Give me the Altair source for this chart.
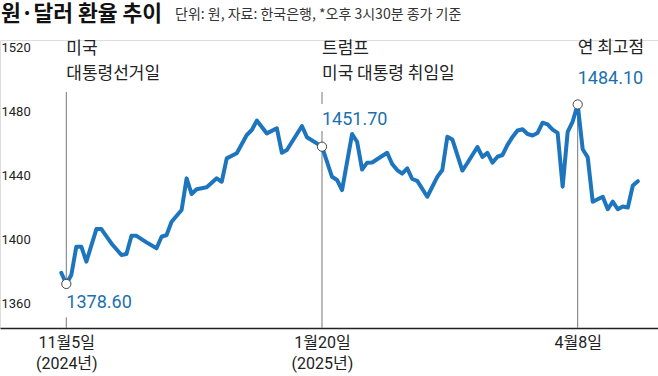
import json
import altair as alt
import pandas as pd

# ---- data ---------------------------------------------------------------
# trading-day index (0 = 2024-11-05) and won/dollar 15:30 close
day_index = [-1, 0, 1, 2, 3, 4, 6, 7, 9, 11,
             12, 13, 14, 16, 18, 19, 20, 21, 23, 24,
             25, 26, 28, 30, 31, 32, 34, 36, 37, 38,
             40, 42, 43, 44, 47, 48, 51, 53, 54, 55,
             57, 58, 59, 60, 61, 64, 65, 66, 67, 68,
             69, 70, 72, 74, 75, 76, 77, 79, 80, 81,
             82, 83, 84, 85, 86, 87, 88, 89, 90, 91,
             92, 93, 94, 95, 96, 97, 98, 99, 100, 101,
             102, 103, 104, 105, 107, 108, 109, 110, 111, 112,
             113, 114]
rate = [1378.9, 1371.9, 1377.5, 1395.2, 1395.2, 1385.8, 1406.2, 1406.2, 1397.2, 1390.0,
        1390.6, 1402.0, 1402.0, 1397.9, 1394.2, 1401.4, 1402.5, 1410.8, 1418.1, 1437.9,
        1428.1, 1431.1, 1432.3, 1437.9, 1435.8, 1450.4, 1453.6, 1465.0, 1468.1, 1474.0,
        1466.0, 1469.2, 1453.9, 1455.6, 1470.6, 1463.6, 1457.7, 1438.9, 1436.9, 1430.6,
        1465.6, 1460.8, 1443.4, 1447.7, 1447.8, 1453.9, 1446.9, 1443.1, 1440.9, 1444.2,
        1437.5, 1436.3, 1426.4, 1438.8, 1443.1, 1463.9, 1462.2, 1442.8, 1447.5, 1452.5,
        1457.5, 1451.3, 1453.8, 1447.7, 1451.4, 1452.5, 1458.8, 1463.8, 1467.8, 1468.6,
        1465.6, 1464.7, 1466.3, 1472.7, 1471.6, 1468.4, 1466.3, 1432.7, 1466.9, 1473.4,
        1484.1, 1456.1, 1451.1, 1423.3, 1426.4, 1418.6, 1423.3, 1418.6, 1420.3, 1419.7,
        1433.4, 1436.1]

# x-axis ticks
tick_days = [0, 51, 102]
tick_labels = [["11월5일", "(2024년)"], ["1월20일", "(2025년)"], ["4월8일"]]

# y-axis ticks
y_ticks = [1360, 1400, 1440, 1480, 1520]

# highlighted days and their labels
mark_days = [0, 51, 102]
mark_values = ["1378.60", "1451.70", "1484.10"]
mark_value_rate = [1360.2, 1474.4, 1500.0]
mark_value_dx = [-14, -13, -15]

# event captions (two lines each, first line / second line)
event_days = [0, 0, 51, 51, 102]
event_text = ["미국", "대통령선거일", "트럼프", "미국 대통령 취임일", "연 최고점"]
event_rate = [1518.75, 1503.1, 1518.75, 1503.1, 1519.3]
event_dx = [-14, -14, -13, -13, -16]

# reference lines (segments, broken around labels)
rule_day = [0, 0, 51, 51, 102]
rule_top = [1491.9, 1351.0, 1491.9, 1467.5, 1484.1]
rule_bottom = [1371.9, 1344.375, 1484.4, 1344.375, 1344.375]

TITLE = "원·달러 환율 추이"
SUBTITLE = "단위: 원, 자료: 한국은행, *오후 3시30분 종가 기준"

# ---- styling -------------------------------------------------------------
BLUE = "#1d76bd"
BLUE_TXT = "#1b6fb0"
KR = "Noto Sans CJK KR"
NUM = "Roboto, Noto Sans CJK KR"

X_DOMAIN = [-13.224, 118.02]
Y_DOMAIN = [1344.375, 1524.375]

line_df = pd.DataFrame({"idx": day_index, "rate": rate})
circ_df = line_df[line_df["idx"].isin(mark_days)].copy()
val_df = pd.DataFrame({"idx": mark_days, "rate": mark_value_rate,
                       "label": mark_values, "dx": mark_value_dx})
evt_df = pd.DataFrame({"idx": event_days, "rate": event_rate,
                       "label": event_text, "dx": event_dx})
rule_df = pd.DataFrame({"idx": rule_day, "top": rule_top, "bottom": rule_bottom})

label_expr = " : ".join(
    f"datum.value == {d} ? {json.dumps(l, ensure_ascii=False)}"
    for d, l in zip(tick_days, tick_labels)
) + " : ''"

x_axis = alt.Axis(values=tick_days, labelExpr=label_expr, title=None, grid=False,
                  ticks=False, tickSize=0, domain=True, domainColor="#222",
                  domainWidth=1.3, labelFont=NUM, labelFontSize=16,
                  labelColor="#222", labelPadding=6, labelBaseline="top",
                  labelLineHeight=21, labelFlush=False, labelOverlap=False)
y_axis = alt.Axis(values=y_ticks, format="d", title=None, grid=False, ticks=False,
                  tickSize=0, domain=False, labelAlign="left", labelBaseline="middle",
                  labelPadding=0, offset=-1, labelFont=NUM, labelFontSize=13,
                  labelColor="#222")

Y_SCALE = alt.Scale(domain=Y_DOMAIN, nice=False, zero=False)
X = alt.X("idx:Q", scale=alt.Scale(domain=X_DOMAIN, nice=False, zero=False), axis=x_axis)
Y = alt.Y("rate:Q", scale=Y_SCALE, axis=y_axis)

rules = alt.Chart(rule_df).mark_rule(color="#777", strokeWidth=1).encode(
    x=X, y=alt.Y("top:Q", scale=Y_SCALE, axis=y_axis), y2="bottom:Q")

line = alt.Chart(line_df).mark_line(color=BLUE, strokeWidth=4, strokeJoin="round",
                                    strokeCap="round").encode(x=X, y=Y)

circles = alt.Chart(circ_df).mark_point(shape="circle", filled=True, fill="white",
                                        stroke="#444", strokeWidth=1, size=85,
                                        opacity=1).encode(x=X, y=Y)

vals = alt.Chart(val_df).mark_text(align="left", baseline="middle", font=NUM,
                                   fontSize=18, color=BLUE_TXT).encode(
    x=X, y=Y, text="label:N", xOffset=alt.XOffset("dx:Q", scale=None))

evts = alt.Chart(evt_df).mark_text(align="left", baseline="middle", font=KR,
                                   fontSize=17, color="#222").encode(
    x=X, y=Y, text="label:N", xOffset=alt.XOffset("dx:Q", scale=None))

title = alt.Chart(pd.DataFrame({"t": [TITLE]})).mark_text(
    align="left", baseline="middle", font=KR, fontSize=21.5, fontWeight="bold",
    color="#111").encode(x=alt.value(1), y=alt.value(-25.5), text="t:N")

sub = alt.Chart(pd.DataFrame({"t": [SUBTITLE]})).mark_text(
    align="left", baseline="middle", font=KR, fontSize=14, color="#333").encode(
    x=alt.value(175), y=alt.value(-24.8), text="t:N")

chart = alt.layer(rules, line, circles, vals, evts, title, sub).properties(
    width=658, height=288,
    padding={"left": 0, "top": 40, "right": 0, "bottom": 48},
    autosize=alt.AutoSizeParams(type="none"),
).configure_view(stroke=None).configure(background="white")

chart.save("out.html", embed_options={"renderer": "svg", "actions": False})
